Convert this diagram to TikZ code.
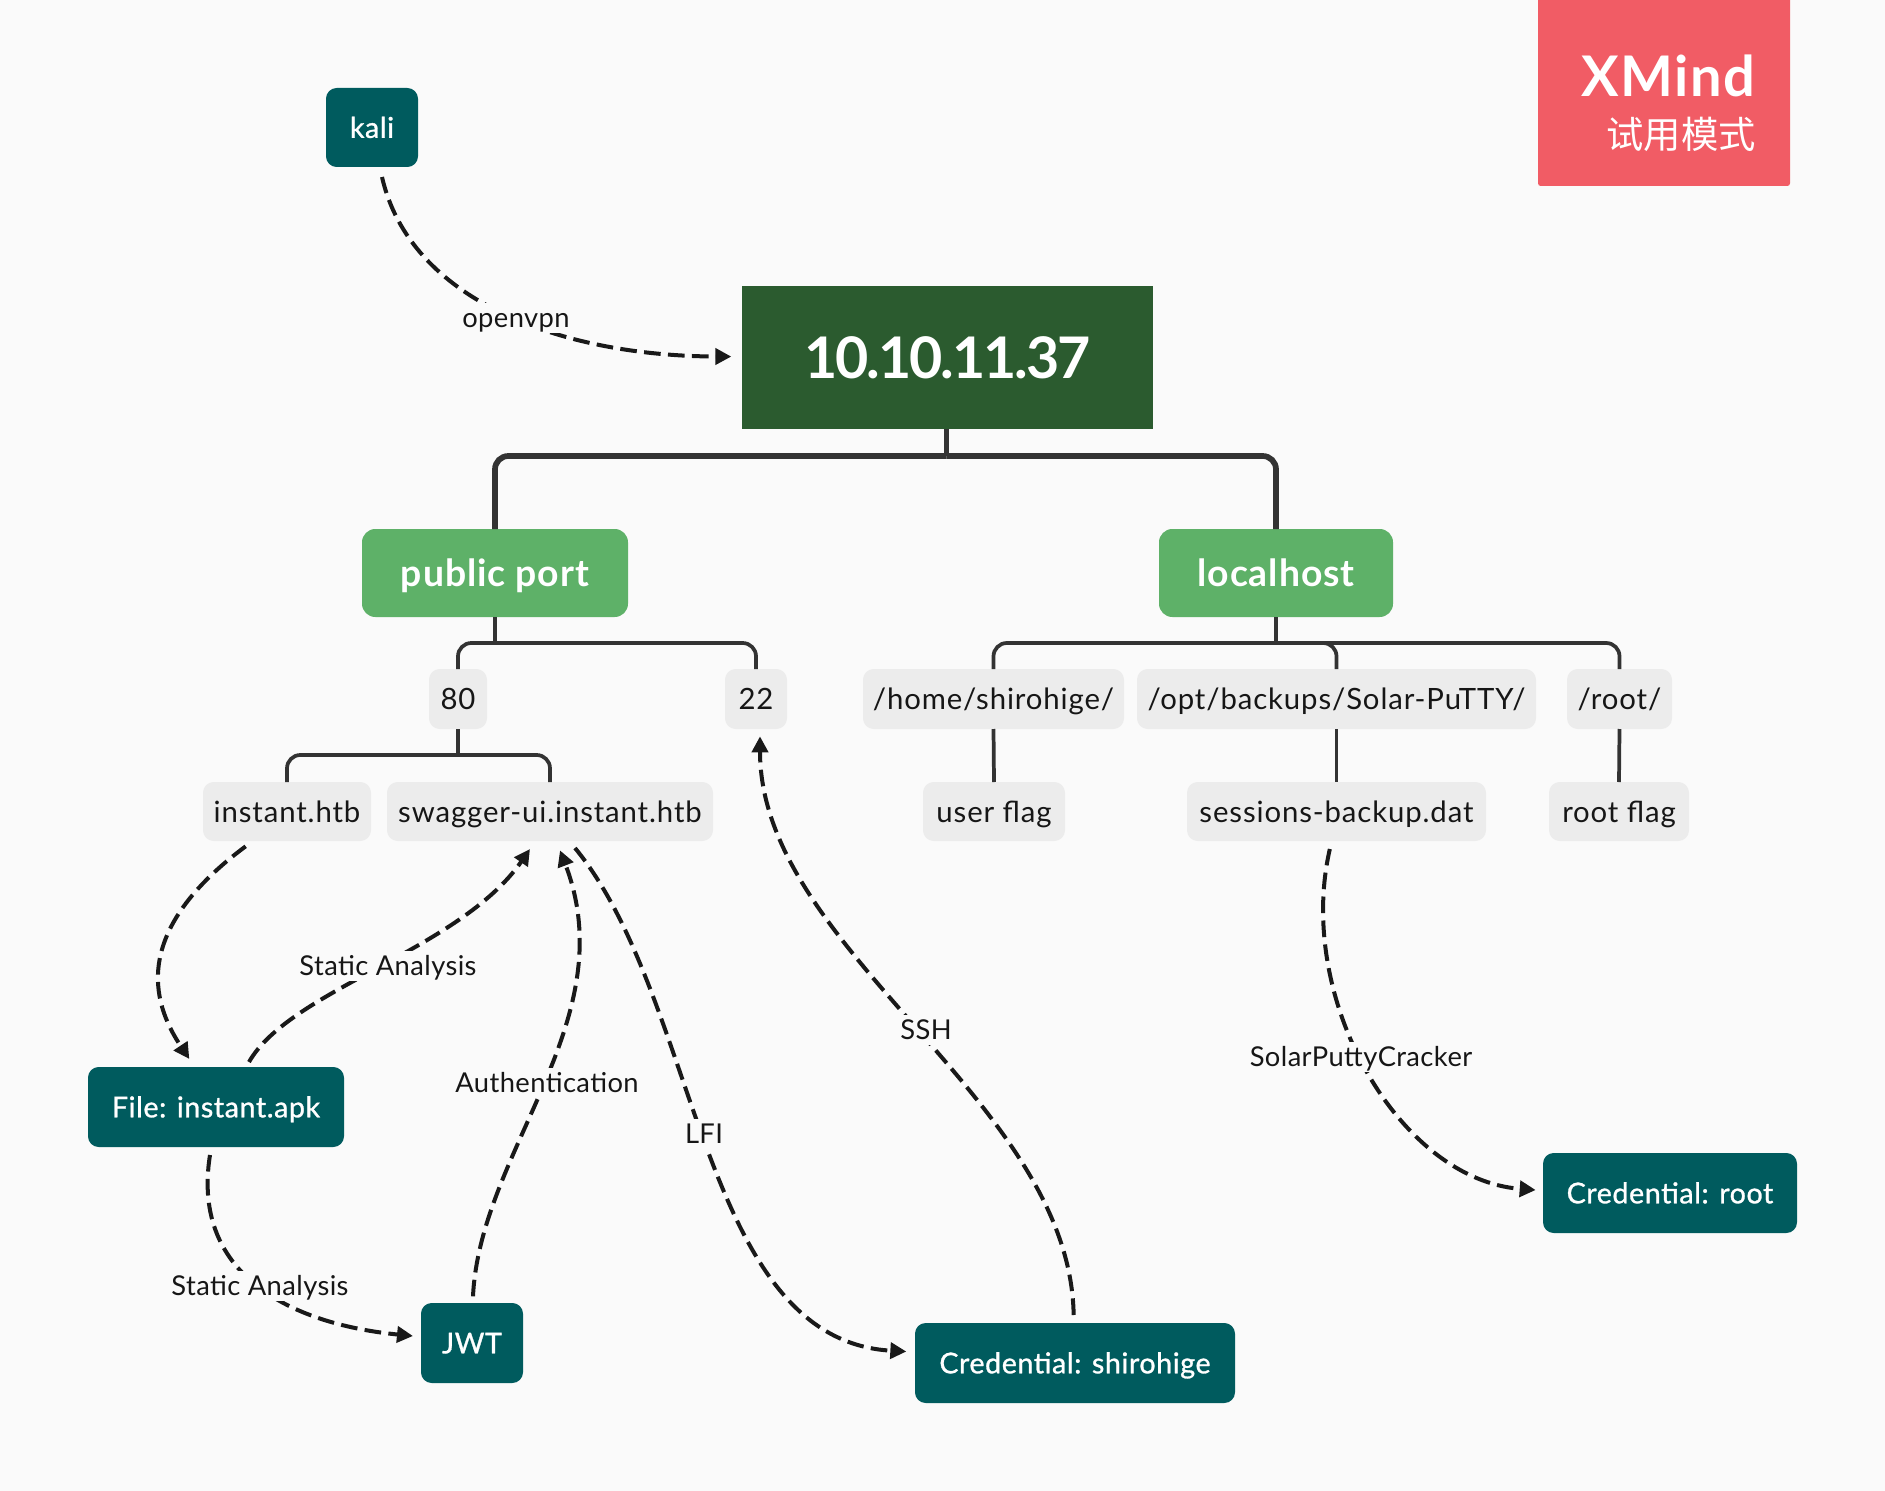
\documentclass[tikz,border=0pt]{standalone}
\usepackage{fontspec}
\setmainfont{Lato}
\newfontfamily\tealf[FakeBold=1,LetterSpace=2]{Lato}
\newfontfamily\subf[LetterSpace=3]{Lato}
\newfontfamily\lblf[LetterSpace=1.5]{Lato}
\newfontfamily\mainf[LetterSpace=2.5]{Lato Bold}
\newfontfamily\rootf[LetterSpace=-3.6]{Lato Bold}
\newfontfamily\xmf[LetterSpace=3]{Lato Bold}
\newfontfamily\cjk{Noto Sans CJK SC}
\usetikzlibrary{arrows.meta}
\definecolor{bgc}{RGB}{250,250,250}
\definecolor{rootc}{RGB}{43,91,47}
\definecolor{tealc}{RGB}{0,91,94}
\definecolor{greenc}{RGB}{94,177,104}
\definecolor{greyc}{RGB}{236,236,236}
\definecolor{redc}{RGB}{241,92,101}
\definecolor{linec}{RGB}{51,51,51}
\definecolor{txtc}{RGB}{22,22,22}
\newcommand{\boxn}[7]{\node[#6, minimum width={(#4-#2)*0.75pt}, minimum height={(#5-#3)*0.75pt}] (#1) at ({(#2+#4)/2},{(#3+#5)/2}) {#7};}
\tikzset{
  allbox/.style={inner sep=0pt, outer sep=0pt},
  rootbox/.style={allbox, fill=rootc, text=white, text height=39pt, text depth=8pt, font=\fontsize{43}{50}\rootf},
  mainbox/.style={allbox, fill=greenc, text=white, rounded corners=10pt, text height=26pt, text depth=6pt, font=\fontsize{28}{32}\mainf},
  subbox/.style={allbox, fill=greyc, text=txtc, rounded corners=8pt, text height=21pt, text depth=5pt, font=\fontsize{22}{25}\subf},
  tealbox/.style={allbox, fill=tealc, text=white, rounded corners=8pt, text height=20.5pt, text depth=5pt, font=\fontsize{21.5}{25}\tealf},
  bigline/.style={draw=linec, line width=4.3pt, rounded corners=10pt},
  midline/.style={draw=linec, line width=2.8pt, rounded corners=10pt},
  rel/.style={draw=black!90, line width=3pt, dash pattern=on 12.5pt off 5.5pt, -{Triangle[length=12pt,width=12pt]}},
  lbl/.style={fill=bgc, text=txtc, inner sep=0.5pt, text height=18pt, text depth=4pt, font=\fontsize{20.5}{23}\lblf}
}
\begin{document}
\begin{tikzpicture}[x=0.75pt,y=-0.75pt]
\useasboundingbox (0,0) rectangle (1885,1491);
\fill[bgc] (0,0) rectangle (1885,1491);
% watermark
\fill[redc, rounded corners=2pt] (1538,-10) rectangle (1790,186);
\node[inner sep=0pt, anchor=base east, text=white, font=\fontsize{42}{50}\xmf] (xm) at (1756,97) {XMind};
\node[inner sep=0pt, anchor=base east, text=white, font=\fontsize{28}{32}\selectfont\cjk] (xmc) at (1756,149) {试用模式};
% nodes
\boxn{kali}{326}{88}{418}{167}{tealbox}{kali}
\boxn{root}{742}{286}{1153}{429}{rootbox}{10.10.11.37}
\boxn{public}{362}{529}{628}{617}{mainbox}{public port}
\boxn{local}{1159}{529}{1393}{617}{mainbox}{localhost}
\boxn{p80}{429}{669}{487}{729}{subbox}{80}
\boxn{p22}{725}{669}{787}{729}{subbox}{22}
\boxn{home}{863}{669}{1124}{729}{subbox}{/home/shirohige/}
\boxn{opt}{1137}{669}{1536}{729}{subbox}{/opt/backups/Solar-PuTTY/}
\boxn{rootd}{1567}{669}{1672}{729}{subbox}{/root/}
\boxn{inst}{203}{782}{371}{841}{subbox}{instant.htb}
\boxn{swag}{387}{782}{713}{841}{subbox}{swagger-ui.instant.htb}
\boxn{uflag}{923}{782}{1065}{841}{subbox}{user flag}
\boxn{sess}{1187}{782}{1486}{841}{subbox}{sessions-backup.dat}
\boxn{rflag}{1549}{782}{1689}{841}{subbox}{root flag}
\boxn{apk}{88}{1067}{344}{1147}{tealbox}{File: instant.apk}
\boxn{jwt}{421}{1303}{523}{1383}{tealbox}{JWT}
\boxn{cshiro}{915}{1323}{1235}{1403}{tealbox}{Credential: shirohige}
\boxn{croot}{1543}{1153}{1797}{1233}{tealbox}{Credential: root}
% tree
\coordinate (b1) at (946.5,456);
\coordinate (b2) at (495,643);
\coordinate (b3) at (1276,643);
\coordinate (b4) at (458,755);
\draw[draw=linec, line width=4.3pt] (root.south -| b1) -- (b1);
\path[bigline] (b1) -| (public.north);
\path[bigline] (b1) -| (local.north);
\draw[draw=linec, line width=2.8pt] (public.south) -- (b2);
\path[midline] (b2) -| (p80.north);
\path[midline] (b2) -| (p22.north);
\draw[draw=linec, line width=2.8pt] (local.south) -- (b3);
\path[midline] (b3) -| (home.north);
\path[midline] (b3) -| (opt.north);
\path[midline] (b3) -| (rootd.north);
\draw[draw=linec, line width=2.8pt] (p80.south) -- (b4);
\path[midline] (b4) -| (inst.north);
\path[midline] (b4) -| (swag.north);
\draw[draw=linec, line width=2.8pt] (home.south) -- (uflag.north);
\draw[draw=linec, line width=2.8pt] (opt.south) -- (sess.north);
\draw[draw=linec, line width=2.8pt] (rootd.south) -- (rflag.north);
% relationships
\draw[rel] ([xshift=7.5pt,yshift=-7.5pt]kali.south) .. controls (410,300) and (560,356) .. ([xshift=-8pt,yshift=0.7pt]root.west);
\draw[rel] ([xshift=-31pt,yshift=-4pt]inst.south) .. controls (133,930) and (150,1000) .. ([xshift=-20pt,yshift=6pt]apk.north);
\draw[rel] ([xshift=24.75pt,yshift=3.75pt]apk.north) .. controls (290,990) and (460,950) .. ([xshift=-15pt,yshift=-6pt]swag.south);
\draw[rel] ([xshift=-4.5pt,yshift=-6pt]apk.south) .. controls (190,1280) and (300,1325) .. ([xshift=-6pt,yshift=5.25pt]jwt.west);
\draw[rel] ([xshift=0.75pt,yshift=5pt]jwt.north) .. controls (480,1150) and (625,1020) .. ([xshift=7.5pt,yshift=-7pt]swag.south);
\draw[rel] ([xshift=18.75pt,yshift=-5.25pt]swag.south) .. controls (700,1000) and (700,1340) .. ([xshift=-6.5pt,yshift=8.6pt]cshiro.west);
\draw[rel] ([xshift=-1pt,yshift=6pt]cshiro.north) .. controls (1070,1100) and (760,950) .. ([xshift=3pt,yshift=-5.5pt]p22.south);
\draw[rel] ([xshift=-5pt,yshift=-6pt]sess.south) .. controls (1295,1000) and (1400,1180) .. ([xshift=-5.5pt,yshift=2.25pt]croot.west);
% labels
\node[lbl] (l1) at (516,318) {openvpn};
\node[lbl] (l2) at (388,966) {Static Analysis};
\node[lbl] (l3) at (260,1286) {Static Analysis};
\node[lbl] (l4) at (547,1083) {Authentication};
\node[lbl] (l5) at (704,1134) {LFI};
\node[lbl] (l6) at (926,1030) {SSH};
\node[lbl] (l7) at (1361,1057) {SolarPuttyCracker};
\end{tikzpicture}
\end{document}
